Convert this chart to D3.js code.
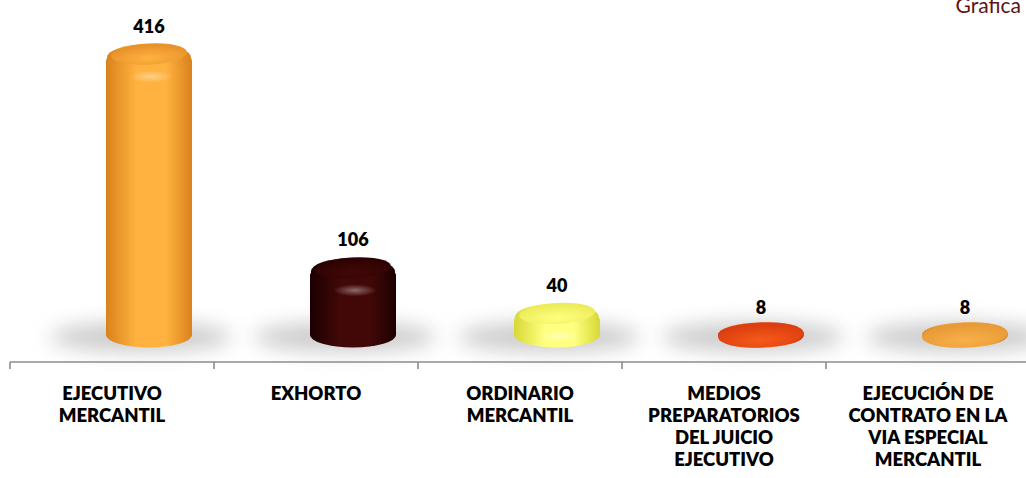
<!DOCTYPE html>
<html>
<head>
<meta charset="utf-8">
<script src="https://cdn.jsdelivr.net/npm/d3@7"></script>
<style>
  html, body { margin: 0; padding: 0; background: #fff; }
  svg { display: block; }
</style>
</head>
<body>
<svg id="chart" width="1026" height="478"></svg>
<script>
// data
const categories = [
  ["EJECUTIVO", "MERCANTIL"],
  ["EXHORTO"],
  ["ORDINARIO", "MERCANTIL"],
  ["MEDIOS", "PREPARATORIOS", "DEL JUICIO", "EJECUTIVO"],
  ["EJECUCIÓN DE", "CONTRATO EN LA", "VIA ESPECIAL", "MERCANTIL"]
];
const values = [416, 106, 40, 8, 8];
const barColors = [
  ["#d9821c", "#ffb23f", "#e8922a"],
  ["#1c0000", "#420808", "#2e0202"],
  ["#d8d838", "#ffff80", "#ecec5a"],
  ["#c83208", "#f55a1a", "#dc3e0e"],
  ["#d8862a", "#f8b04a", "#e89a36"]
];
const title = "Grafica";

const W = 1026, H = 478;
const svg = d3.select("#chart");
const defs = svg.append("defs");

const keys = categories.map((c, i) => "c" + i);
const x = d3.scaleBand().domain(keys).range([10, 1030]);
const y = d3.scaleLinear().domain([0, 416]).range([341, 54]);

const baseY = 335, axisY = 362;
const rx = 43, ry = 12.5;
const shift = 37;
const font = "Lato, 'Open Sans', sans-serif";

// soft shadow
defs.append("filter").attr("id", "blur")
  .attr("x", "-50%").attr("y", "-100%").attr("width", "200%").attr("height", "300%")
  .append("feGaussianBlur").attr("stdDeviation", 10);

keys.forEach((k, i) => {
  const g = defs.append("linearGradient").attr("id", "side" + i)
    .attr("x1", 0).attr("x2", 1).attr("y1", 0).attr("y2", 0);
  g.append("stop").attr("offset", "0%").attr("stop-color", barColors[i][0]);
  g.append("stop").attr("offset", "35%").attr("stop-color", barColors[i][1]);
  g.append("stop").attr("offset", "70%").attr("stop-color", barColors[i][1]);
  g.append("stop").attr("offset", "100%").attr("stop-color", barColors[i][0]);

  const r = defs.append("radialGradient").attr("id", "top" + i)
    .attr("cx", "50%").attr("cy", "70%").attr("r", "60%");
  r.append("stop").attr("offset", "0%").attr("stop-color", barColors[i][1]);
  r.append("stop").attr("offset", "100%").attr("stop-color", barColors[i][2]);

  const h = defs.append("radialGradient").attr("id", "hl" + i)
    .attr("cx", "50%").attr("cy", "50%").attr("r", "50%");
  h.append("stop").attr("offset", "0%").attr("stop-color", "#fff").attr("stop-opacity", 0.4);
  h.append("stop").attr("offset", "100%").attr("stop-color", "#fff").attr("stop-opacity", 0);
});

const bars = svg.append("g").selectAll("g").data(values).join("g")
  .attr("transform", (d, i) => `translate(${x(keys[i]) + x.bandwidth() / 2 + shift},0)`);

bars.append("ellipse")
  .attr("cx", -8).attr("cy", baseY + 2).attr("rx", rx + 48).attr("ry", 15)
  .attr("fill", "#999").attr("opacity", 0.5).attr("filter", "url(#blur)");

bars.each(function(d, i) {
  const g = d3.select(this);
  const topY = Math.min(y(d), baseY);
  const tall = baseY - topY > 15;
  const b = tall ? 7 : 0; // bevel size
  // body with rounded shoulders
  g.append("path")
    .attr("d", `M${-rx},${topY + b} L${-rx},${baseY} A${rx},${ry} 0 0 0 ${rx},${baseY} L${rx},${topY + b}` +
      ` A${rx},${ry} 0 0 0 ${-rx},${topY + b} Z`)
    .attr("fill", `url(#side${i})`);
  if (tall) {
    // rounded bevel ring
    g.append("ellipse")
      .attr("cx", 0).attr("cy", topY + b / 2).attr("rx", rx - 1).attr("ry", ry + 1)
      .attr("fill", `url(#side${i})`);
    // bevel highlight under the top
    g.append("ellipse")
      .attr("cx", 2).attr("cy", topY + ry + 10).attr("rx", rx * 0.5).attr("ry", 6)
      .attr("fill", `url(#hl${i})`);
  }
  // top cap
  g.append("ellipse")
    .attr("cx", 0).attr("cy", topY).attr("rx", tall ? rx - 5 : rx).attr("ry", tall ? ry - 2 : ry)
    .attr("fill", `url(#top${i})`)
    .attr("transform", `rotate(-3,0,${topY})`);
  // value label
  g.append("text")
    .attr("x", 0).attr("y", topY - ry - 9)
    .attr("text-anchor", "middle")
    .attr("font-family", font)
    .attr("font-weight", 800).attr("font-size", 18).attr("fill", "#000")
    .text(d);
});

// axis
const axis = svg.append("g").attr("stroke", "#8c8c8c").attr("stroke-width", 1.6);
axis.append("line").attr("x1", 10).attr("x2", W).attr("y1", axisY).attr("y2", axisY);
axis.selectAll("line.tick").data(keys).join("line").attr("class", "tick")
  .attr("x1", d => x(d)).attr("x2", d => x(d))
  .attr("y1", axisY).attr("y2", axisY + 7);

// category labels
svg.append("g").selectAll("text").data(categories).join("text")
  .attr("text-anchor", "middle")
  .attr("font-family", font)
  .attr("font-weight", 800).attr("font-size", 18.5).attr("fill", "#000")
  .each(function(lines, i) {
    d3.select(this).selectAll("tspan").data(lines).join("tspan")
      .attr("x", x(keys[i]) + x.bandwidth() / 2)
      .attr("y", (l, j) => 400 + j * 22)
      .text(l => l);
  });

svg.append("text")
  .attr("x", 1021).attr("y", 13).attr("text-anchor", "end")
  .attr("font-family", font)
  .attr("font-size", 21).attr("fill", "#5a1414")
  .text(title);
</script>
</body>
</html>
